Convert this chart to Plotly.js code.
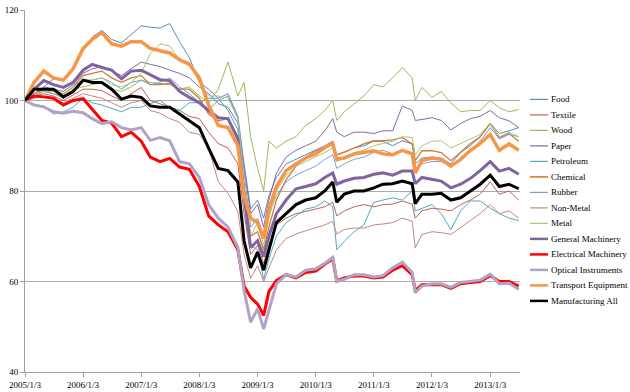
<!DOCTYPE html>
<html><head><meta charset="utf-8">
<script src="https://cdn.plot.ly/plotly-3.0.1.min.js"></script>
<style>html,body{margin:0;padding:0;background:#fff;} #chart{width:630px;height:392px;}</style>
</head><body><div id="chart"></div>
<script>
const dates = ["2005-01-03","2005-03-01","2005-05-01","2005-07-01","2005-09-01","2005-11-01",
"2006-01-03","2006-03-01","2006-05-01","2006-07-01","2006-09-01","2006-11-01",
"2007-01-03","2007-03-01","2007-05-01","2007-07-01","2007-09-01","2007-11-01",
"2008-01-03","2008-03-01","2008-05-01","2008-07-01","2008-09-01","2008-10-10","2008-11-20",
"2009-01-03","2009-02-10","2009-03-15","2009-05-01","2009-07-01","2009-09-01","2009-11-01",
"2010-01-03","2010-03-01","2010-04-20","2010-05-15","2010-07-01","2010-09-01","2010-11-01",
"2011-01-03","2011-03-01","2011-05-01","2011-07-01","2011-09-01","2011-09-20","2011-11-01",
"2012-01-03","2012-03-01","2012-05-01","2012-07-01","2012-09-01","2012-11-01",
"2013-01-03","2013-03-01","2013-05-01","2013-07-01"];

const food = [100,100.5,103,104.8,104.4,106.7,111,114,115.5,113.5,112.7,114.5, 116.5,116.2,116,117,113,109.5, 104,102.5,100.5,101.5,96.5,86,76, 78,74,79,83,86,87,88, 89,90,91,88,88.5,89.5,90, 91,91,90,91.1,90.4,86,87.3, 87.5,87.3,86,88.5,90,92, 95,92.7,93.3,94];
const textile = [100,101,101.5,101,100,101.2,102.5,102.5,102.2,101,100,101.5, 102.9,100,99.3,98.6,97.8,96.5, 96,93,90.5,89.5,86,75,66, 68,64,68,72.5,74,75,75.5, 76,76.5,77.5,74.5,75.6,76.5,77, 76.5,77,77.1,77.8,77.1,74,75.6, 76.2,76,75.6,77,78,79.3, 82,79.3,80,78];
const wood = [100,100.8,102,101.5,101,102.5,103,103.5,104,102.5,102,103, 104.5,104,103.8,103.5,102.5,103, 101,99.5,102.5,108.5,101,104,92, 85,80,91,89.5,91,92,94.5, 96,97.8,100,95.6,97.5,99.3,101, 103.5,103,105,107.3,105,100,102.9, 100.7,102,99.5,97.5,97.8,97.8, 100,98.4,97.5,98];
const paper = [100,101.5,103,102.5,102,103.5,106,107,107.5,106.5,105.5,107, 108.5,108,107.5,106.7,106,105, 103,101.5,99.3,98.5,95,85,75, 77,72,78,84,87.5,89,90, 91,93.3,96,93,92,93,93, 92.7,93.3,93.3,98.8,97.8,95.6,95.8, 96.2,95.6,93.5,94.9,96,96.5, 97.8,96.2,95.5,94];
const petroleum = [100,99,98.8,97,97.5,98.5,100.5,99.5,99,98.2,97.5,98.5, 98.5,99.3,100,98.4,97.8,99.5, 99.5,100.5,100.5,97.8,93.5,80,68, 67,60.5,65,70,73,74.5,76, 76.5,77.8,76.5,67,68.9,71,72.5, 77.5,78,78.5,78,80,75.6,76.2, 77,75,71.5,75.6,77.8,77.8, 76.2,75,74,73.5];
const chemical = [100,101.5,102.5,102,101.5,103,105.5,106,106.5,105,104,105, 105.5,103.5,103.5,103.8,102.5,102.5, 100.5,97,95.5,96,92,80,70, 71,67,72,78,82.5,85.5,87.5, 88.9,89.6,90.5,88,88.6,89.5,90.4, 91.1,91.1,91.3,91.8,90.4,86.7,88.9, 88.9,88.5,86.7,88.5,90.5,92, 94.9,91.8,92.7,91];
const rubber = [100,101.5,102,101.5,100.5,102,104.5,104.5,105,104,102.5,104, 104.5,103.5,104,105,103,101.5, 99.5,98,100,101,96,84,72, 74,70,75,79,82,83.5,84.5, 85.5,87,88,85,86,87,87.5, 88.5,89,88.2,89,88.2,85,86, 86.5,86.5,85.5,87,89,91, 94,91.5,92.5,92];
const nonMetal = [100,100.5,101,100.5,99.5,100.5,101.5,101,100.5,99.5,98.5,99.5, 100,97.8,97.2,96,95.2,93, 92.5,89.6,82,79.5,75.5,66,60.7, 63.5,60,63,67,69.5,70.5,71.2, 71.8,72.5,73.3,70.5,71.5,71.8,71.8, 72.5,72.7,73,74,73.3,67.4,70.4, 71,70.8,70.4,72,73.5,75, 77,75,75.6,74];
const metal = [100,101,102,102,101.5,103,104.5,104.5,105,103.5,103,104, 106,110.4,112.5,112,109,108.5, 104,101,101,100.5,96,82,70, 73,68,74,80,83.5,85.5,86.5, 87.5,88.5,89.5,86.5,87.5,88.5,89, 90,90.5,91,92,91.8,88,90, 91,91.1,89.5,90.5,91.5,92.5, 95,92,93,92];
const generalMachinery = [100,102.5,104.4,103.5,102.9,104,106.7,108,107.3,106.7,104.8,106.5, 106.7,105.6,104.6,104.4,102,100.7, 99.5,97.8,96.2,96,91.5,79,67.5, 69,65.5,70,75,78,80.5,81, 81.6,83,84,81.5,82.2,82.8,83, 83.7,84,83.5,84.4,84.4,81.6,83, 82.5,82.2,80.7,81.5,82.8,84.5, 86.5,84.4,85,83.7];
const electricalMachinery = [100,101,100.8,100.5,99,100,100.4,98,95.6,95,92,93, 91,87.5,86.5,87.2,85.3,84.8, 81,74.5,72.5,71,67,59,56.5, 55,52.5,57.8,60.2,61.5,60.8,62, 62.3,63.8,65,60.2,60.8,61.2,61.2, 60.8,61,62.5,63.5,61.5,58,59.3, 59.3,59.3,58.5,59.5,59.8,60, 61.3,60,60,59];
const opticalInstruments = [100,99,98.6,97.5,97.2,97.6,97.3,96,94.9,95.3,94,93.5, 94,91.2,91.8,91.1,86.5,86, 83,77,74,72,67.5,58,51, 54,49.5,53.5,59.5,61.5,61,62.5, 62.8,64,65.3,60,60.5,61.5,61.5, 61,61.3,63,64.3,62,57.5,59, 59.5,59.5,58.7,59.8,60,60.3, 61.6,59.5,59.6,58.3];
const transportEquipment = [100,104,106.5,105,104.5,107,111.5,113.5,115,112.5,112,113, 113,111.5,111,110.5,109,108, 105,99,94.5,94,90,79,74, 73,69.5,76,81,84.5,86,87.3, 88.2,89.6,90.5,87,87.3,88.2,88.5, 88.9,88.2,88,89,88.2,84,86.7, 87.3,87,85.5,87,89,90.5, 92.5,89,90.4,89];
const manufacturingAll = [100,102.5,102.5,102.5,100.8,102,104.5,104,104,102.5,100.3,101, 100.7,98.8,98.5,98.5,97,95.5, 94,89.5,85,84.5,82,69,63, 66.5,62.5,67,73,75,77,78, 78.5,80,82,77.5,79.3,80,80, 80.7,81.5,81.6,82.2,81.6,77.2,79.3, 79.3,79.5,78,78.5,80,81.5, 83.5,81,81.5,80.5];

const seriesNames = ["Food","Textile","Wood","Paper","Petroleum","Chemical","Rubber","Non-Metal","Metal",
  "General Machinery","Electrical Machinery","Optical Instruments","Transport Equipment","Manufacturing All"];
const seriesValues = [food,textile,wood,paper,petroleum,chemical,rubber,nonMetal,metal,
  generalMachinery,electricalMachinery,opticalInstruments,transportEquipment,manufacturingAll];
const tickDates = ["2005-01-03","2006-01-03","2007-01-03","2008-01-03","2009-01-03","2010-01-03","2011-01-03","2012-01-03","2013-01-03"];
const tickLabels = ["2005/1/3","2006/1/3","2007/1/3","2008/1/3","2009/1/3","2010/1/3","2011/1/3","2012/1/3","2013/1/3"];

// styling
const colors = ["#5E88C0","#C0605D","#9BBB59","#8468A6","#4BACC6","#D07C3A","#7E9FD0","#C98580","#A9C77B",
  "#8064A2","#FF0000","#B3A2C7","#F79646","#000000"];
const widths = [1,1,1,1,1,1.3,1,1,1, 3,3,3,3.5,3];
const legendWidths = [1.2,1.2,1.2,1.2,1.2,1.6,1.2,1.2,1.2, 2.5,2.5,2.5,2.5,2.5];

const traces = seriesNames.map((n,i)=>({
  type:'scatter', mode:'lines', name:n, x:dates, y:seriesValues[i],
  line:{color:colors[i], width:widths[i]}, showlegend:false, hoverinfo:'skip'
}));

const L=25, R=520, T=10, B=372;
const pw=R-L, ph=B-T;
const fx = p => (p-L)/pw;
const fy = p => (B-p)/ph;
const font = {family:'Liberation Serif', size:9, color:'#000'};

const shapes = [], annotations = [];
seriesNames.forEach((n,i)=>{
  const yp = 99.4 + 15.5*i;
  shapes.push({type:'line', xref:'paper', yref:'paper', x0:fx(530), x1:fx(548), y0:fy(yp), y1:fy(yp),
    line:{color:colors[i], width:legendWidths[i]}});
  annotations.push({xref:'paper', yref:'paper', x:fx(549), y:fy(yp), xanchor:'left', yanchor:'middle',
    text:n, showarrow:false, font:font});
});

const layout = {
  width:630, height:392,
  margin:{l:L, r:630-R, t:T, b:392-B},
  paper_bgcolor:'#fff', plot_bgcolor:'#fff',
  font:font,
  showlegend:false,
  xaxis:{type:'date', range:['2005-01-03','2013-07-09'], tickmode:'array', tickvals:tickDates, ticktext:tickLabels,
    ticks:'outside', ticklen:4, tickcolor:'#A0A0A0', showline:true, linecolor:'#A0A0A0', linewidth:1,
    showgrid:false, zeroline:false, tickfont:font},
  yaxis:{range:[40,120], tickmode:'linear', tick0:40, dtick:20, ticks:'outside', ticklen:4, tickcolor:'#A0A0A0',
    showline:true, linecolor:'#A0A0A0', linewidth:1, showgrid:true, gridcolor:'#ABABAB', gridwidth:1,
    zeroline:false, tickfont:font},
  shapes:shapes, annotations:annotations
};
Plotly.newPlot('chart', traces, layout, {staticPlot:true, displayModeBar:false});
</script></body></html>
